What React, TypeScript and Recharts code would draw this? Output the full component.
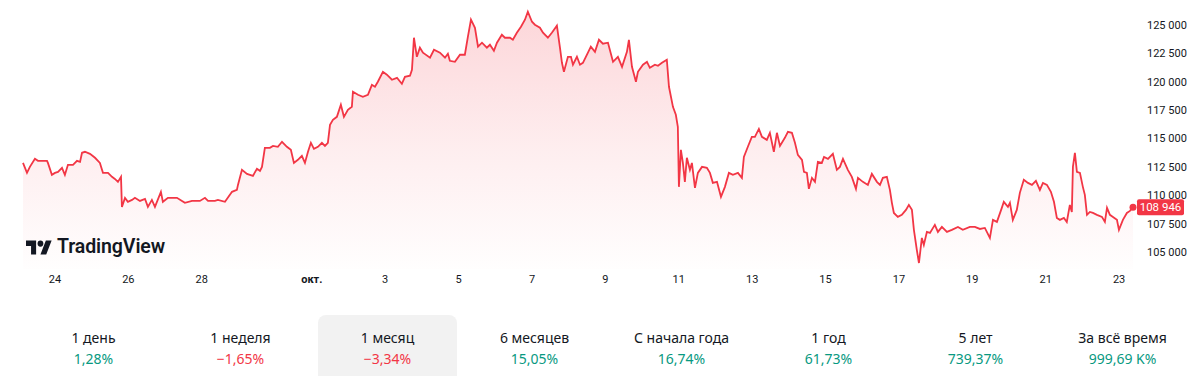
import { AreaChart, Area, XAxis, YAxis, ReferenceLine } from "recharts";

// [часы от 23 сен 00:00, цена]
const sep23to27 = [
  [3.1, 112850], [5.7, 111970], [7.6, 112500], [10.9, 113210], [12.9, 113030], [18.8, 113030],
  [19.4, 112850], [22.0, 111800], [24.0, 111970], [26.0, 112060], [28.6, 112410], [30.5, 111800],
  [32.5, 112680], [35.8, 112680], [38.4, 113030], [40.4, 112940], [41.7, 113740], [43.6, 113830],
  [46.9, 113650], [50.2, 113300], [53.4, 112850], [55.4, 111970], [58.7, 111970], [61.3, 111620],
  [63.2, 111440], [65.2, 111180], [67.2, 111620], [67.8, 108970], [69.8, 109770], [71.7, 109420],
  [74.4, 109590], [76.3, 109770], [79.6, 109500], [82.9, 109680], [84.8, 108970], [87.4, 109590],
  [89.4, 108970], [93.3, 110300], [94.6, 109420], [97.9, 109770], [103.8, 109770], [107.1, 109500],
  [109.0, 109330], [113.6, 109500], [118.8, 109500],
];

const sep28toOct2 = [
  [122.1, 109770], [124.1, 109500], [128.6, 109500], [130.6, 109590], [135.2, 109420], [139.8, 110300],
  [143.0, 110470], [143.7, 110910], [146.3, 112240], [149.6, 111880], [153.5, 111710], [156.1, 112330],
  [158.1, 112150], [159.4, 112500], [161.3, 114180], [164.6, 114180], [166.6, 114350], [169.8, 114270],
  [172.5, 114710], [175.7, 114270], [178.3, 114000], [180.3, 112850], [182.9, 113120], [185.5, 113470],
  [187.5, 112850], [189.5, 113830], [191.4, 114620], [193.4, 114090], [196.0, 114270], [198.6, 114620],
  [200.6, 114350], [202.5, 114620], [203.9, 116210], [205.8, 116650], [208.4, 116910], [211.0, 117970],
  [213.0, 116910], [215.6, 117530], [218.2, 117790], [218.9, 119120], [222.2, 118850], [225.4, 118680],
  [228.7, 118850], [231.3, 119730], [233.3, 119560], [235.2, 120000], [238.5, 120880],
];

const oct3to7 = [
  [241.1, 120620], [244.4, 120180], [247.7, 120350], [250.9, 119820], [252.9, 120440], [256.2, 120530],
  [257.5, 121060], [258.8, 123880], [260.7, 122200], [262.7, 123000], [264.7, 122560], [269.3, 122120],
  [271.9, 122820], [275.8, 122560], [279.1, 122120], [281.0, 122470], [282.3, 121850], [285.6, 121760],
  [288.9, 122380], [292.1, 122380], [294.1, 123970], [296.1, 125470], [298.7, 124760], [300.7, 123090],
  [303.3, 123440], [306.5, 123000], [308.5, 123260], [311.1, 122730], [313.1, 123440], [316.3, 124140],
  [318.3, 123880], [321.6, 123880], [323.5, 123700], [326.1, 124320], [328.8, 124850], [331.4, 125470],
  [333.3, 126170], [336.0, 125290], [337.9, 125030], [341.2, 124760], [343.2, 124320], [346.4, 123880],
  [349.0, 124320], [352.3, 124940], [354.3, 123000], [355.6, 121670], [356.9, 120880], [359.5, 122200],
];

const oct8to12 = [
  [361.5, 122200], [362.8, 121500], [365.4, 122200], [367.4, 121500], [369.3, 121670], [372.6, 122560],
  [374.5, 123090], [377.2, 122640], [379.8, 123700], [382.4, 123350], [385.7, 123440], [389.0, 121760],
  [392.2, 122200], [394.9, 121320], [398.1, 122640], [399.4, 123700], [401.4, 121320], [404.0, 120000],
  [405.3, 120880], [408.6, 121500], [411.2, 121760], [413.1, 121230], [416.4, 121500], [418.4, 121410],
  [421.0, 121670], [424.2, 121940], [425.6, 119560], [428.2, 117790], [430.1, 117090], [431.4, 116030],
  [432.1, 110740], [433.4, 114000], [434.7, 112850], [436.0, 111180], [437.3, 113300], [439.3, 112240],
  [440.6, 112850], [442.6, 110650], [444.5, 111970], [447.2, 112500], [450.4, 112410], [452.4, 111970],
  [454.3, 111090], [457.0, 111180], [459.6, 109860], [462.2, 110740], [464.8, 111970], [467.4, 111800],
  [470.7, 111970], [473.3, 111530], [474.6, 113380], [477.2, 114270], [479.8, 115150],
];

const oct13to17 = [
  [481.8, 115150], [484.4, 115850], [486.4, 115150], [489.6, 114880], [491.6, 115500], [494.2, 113830],
  [496.2, 115500], [498.2, 114350], [501.4, 115060], [503.4, 115590], [506.0, 115500], [508.0, 114620],
  [509.9, 113560], [512.6, 113120], [513.9, 112060], [515.8, 111970], [517.1, 110560], [519.1, 111530],
  [521.1, 111180], [523.0, 112940], [525.6, 112850], [527.0, 113380], [529.6, 113210], [532.8, 113650],
  [535.4, 112240], [537.4, 112500], [539.4, 113210], [542.6, 112240], [545.2, 111620], [547.9, 110560],
  [549.2, 111530], [552.4, 111180], [555.7, 110910], [558.3, 111880], [561.6, 111180], [563.6, 110910],
  [565.5, 111530], [568.1, 111620], [570.1, 110470], [571.4, 109330], [572.7, 108440], [575.3, 108090],
  [577.9, 108270], [580.6, 108710], [582.5, 109150], [584.5, 108710], [585.8, 106950], [587.7, 105180],
  [589.1, 104030], [591.0, 106240], [592.3, 105620], [594.3, 106770], [596.3, 106680], [599.5, 107390],
];

const oct18to23 = [
  [601.5, 106770], [604.1, 107210], [607.4, 106770], [610.6, 106950], [614.6, 107210], [617.8, 106950],
  [622.4, 107210], [625.7, 107210], [629.0, 107030], [632.2, 107120], [635.5, 106240], [637.5, 107830],
  [640.1, 107650], [643.3, 108890], [644.6, 109420], [647.3, 108970], [648.6, 109330], [650.5, 107830],
  [653.1, 108710], [655.1, 110210], [657.7, 111360], [660.4, 111090], [663.0, 110910], [665.6, 111270],
  [668.2, 110470], [670.2, 111090], [672.8, 110910], [675.4, 110300], [677.4, 109420], [679.3, 108000],
  [681.3, 107830], [683.9, 108000], [685.8, 107650], [687.8, 109150], [689.1, 108530], [689.8, 112500],
  [691.1, 113740], [692.4, 112060], [694.4, 111970], [696.3, 110740], [697.6, 110030], [699.0, 108270],
  [700.9, 108530], [702.9, 108440], [705.5, 108270], [708.8, 108090], [710.7, 107650], [712.1, 108890],
  [714.0, 108270], [716.0, 108090], [718.6, 107830], [719.9, 106950], [722.5, 107830], [725.1, 108440],
  [727.1, 108620], [729.1, 108946],
];

const tickHours = [24, 72, 120, 192, 240, 288, 336, 384, 432, 480, 528, 576, 624, 672, 720];
const tickLabels = ["24", "26", "28", "окт.", "3", "5", "7", "9", "11", "13", "15", "17", "19", "21", "23"];
const priceTicks = [105000, 107500, 110000, 112500, 115000, 117500, 120000, 122500, 125000];
const lastPrice = 108946;

const periods = ["1 день", "1 неделя", "1 месяц", "6 месяцев", "С начала года", "1 год", "5 лет", "За всё время"];
const changes = ["1,28%", "−1,65%", "−3,34%", "15,05%", "16,74%", "61,73%", "739,37%", "999,69 K%"];
const activePeriod = "1 месяц";

const RED = "#F23645";
const GREEN = "#089981";
const TEXT = "#131722";

const data = [...sep23to27, ...sep28toOct2, ...oct3to7, ...oct8to12, ...oct13to17, ...oct18to23].map(
  ([t, price]) => ({ t, price })
);

const fmt = (v: number) => String(Math.round(v)).replace(/\B(?=(\d{3})+(?!\d))/g, " ");

const DayTick = (props: any) => {
  const { x, y, payload } = props;
  const label = tickLabels[tickHours.indexOf(payload.value)];
  return (
    <text
      x={x}
      y={y}
      dy="0.71em"
      textAnchor="middle"
      fontSize={11}
      fill={TEXT}
      fontWeight={label === "окт." ? 700 : 400}
    >
      {label}
    </text>
  );
};

const LastDot = (props: any) => {
  const { cx, cy, index } = props;
  if (index !== data.length - 1) return <g key={index} />;
  return <circle key={index} cx={cx} cy={cy} r={3.5} fill={RED} />;
};

const PriceBadge = (props: any) => {
  const vb = props.viewBox || {};
  const right = (vb.x ?? 0) + (vb.width ?? 0);
  const y = vb.y ?? 0;
  return (
    <g>
      <rect x={right + 4} y={y - 8} width={47} height={16} rx={2} fill={RED} />
      <text x={right + 27.5} y={y} dy="0.36em" textAnchor="middle" fontSize={11.5} fill="#fff">
        {fmt(lastPrice)}
      </text>
    </g>
  );
};

export default function App() {
  return (
    <div
      style={{
        position: "absolute",
        left: 0,
        top: 0,
        width: 1200,
        height: 376,
        overflow: "hidden",
        background: "#fff",
        fontFamily: "Roboto, 'Noto Sans', sans-serif",
      }}
    >
      <AreaChart
        width={1200}
        height={299}
        data={data}
        margin={{ top: 8, right: 0, bottom: 0, left: 23 }}
        style={{ fontFamily: "Roboto, sans-serif" }}
      >
        <defs>
          <linearGradient id="btcFill" x1="0" y1="0" x2="0" y2="1">
            <stop offset="0%" stopColor={RED} stopOpacity={0.34} />
            <stop offset="55%" stopColor={RED} stopOpacity={0.14} />
            <stop offset="100%" stopColor={RED} stopOpacity={0.01} />
          </linearGradient>
        </defs>
        <XAxis
          dataKey="t"
          type="number"
          domain={[3.1, 729.1]}
          ticks={tickHours}
          tick={<DayTick />}
          tickLine={false}
          axisLine={false}
          tickSize={0}
          tickMargin={6}
          height={30}
          interval={0}
        />
        <YAxis
          orientation="right"
          domain={[103500, 126500]}
          ticks={priceTicks}
          tickFormatter={fmt}
          tick={{ fontSize: 11, fill: TEXT }}
          tickLine={false}
          axisLine={false}
          tickSize={8}
          tickMargin={6}
          width={67}
          allowDataOverflow
        />
        <Area
          type="linear"
          dataKey="price"
          stroke={RED}
          strokeWidth={1.8}
          fill="url(#btcFill)"
          dot={<LastDot />}
          activeDot={false}
          isAnimationActive={false}
        />
        <ReferenceLine y={lastPrice} stroke="none" label={<PriceBadge />} />
      </AreaChart>

      <div style={{ position: "absolute", left: 26, top: 240, display: "flex", alignItems: "center" }}>
        <svg width={26} height={15} viewBox="0 3.5 36 19" preserveAspectRatio="none">
          <path d="M14 22H7V11H0V4h14v18zM28 22h-8l7.5-18h8L28 22z" fill={TEXT} />
          <circle cx={20} cy={8} r={4} fill={TEXT} />
        </svg>
      </div>
      <div
        style={{
          position: "absolute",
          left: 57,
          top: 235,
          fontSize: 19.5,
          lineHeight: "23px",
          fontWeight: 600,
          color: TEXT,
          fontFamily: "Roboto, sans-serif",
          letterSpacing: -0.1,
        }}
      >
        TradingView
      </div>

      <div style={{ position: "absolute", left: 20, top: 315, display: "flex" }}>
        {periods.map((p, i) => {
          const active = p === activePeriod;
          const neg = changes[i].startsWith("−");
          return (
            <div key={p} style={{ width: 147, display: "flex", justifyContent: "center" }}>
              <div
                style={{
                  width: 139,
                  height: 80,
                  borderRadius: 8,
                  background: active ? "#F2F2F2" : "transparent",
                  textAlign: "center",
                  fontFamily: "'Noto Sans', sans-serif",
                  fontSize: 14,
                }}
              >
                <div style={{ paddingTop: 13, lineHeight: "20px", color: TEXT }}>{p}</div>
                <div style={{ lineHeight: "20px", marginTop: 1, color: neg ? RED : GREEN }}>{changes[i]}</div>
              </div>
            </div>
          );
        })}
      </div>
    </div>
  );
}
